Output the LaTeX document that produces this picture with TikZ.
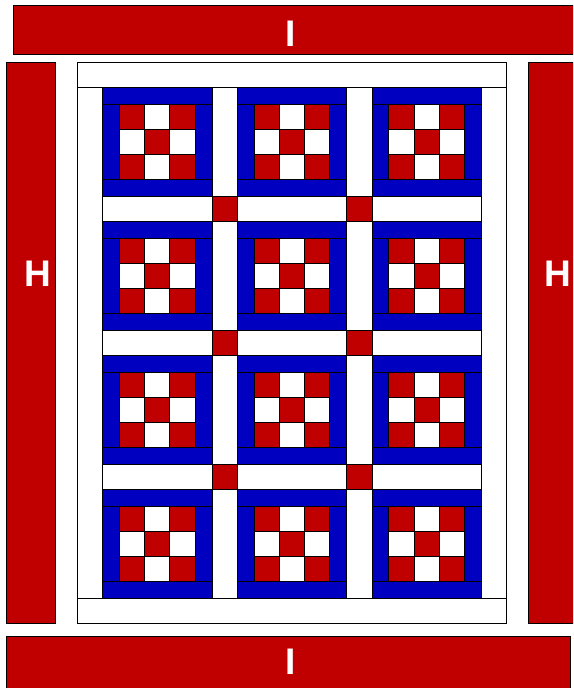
\documentclass[tikz,border=0pt]{standalone}
\usepackage{fontspec}
\setmainfont{Liberation Sans}
\usepackage{xcolor}
\usepackage{tikz}
\usetikzlibrary{positioning}

\definecolor{quiltred}{RGB}{192,0,0}
\definecolor{quiltblue}{RGB}{0,0,192}

\begin{document}
\begin{tikzpicture}[
    x=1pt, y=-1pt,
    bar/.style={rectangle, draw=black, fill=quiltred, line width=1pt},
    piece/.style={draw=black, line width=0.9pt},
    sash/.style={piece, fill=white},
    band/.style={piece, fill=quiltblue},
    redsq/.style={piece, fill=quiltred},
    barlabel/.style={font=\fontsize{37}{40}\selectfont\bfseries, text=white, inner sep=0pt}
]
    \useasboundingbox (0,0) rectangle (573,688);
    \clip (0,0) rectangle (573,688);

    % ============ Outer red borders ============
    \draw[bar] (13.5,5.5) rectangle (600,54);
    \draw[bar] (6.3,636) rectangle (570,700);
    \draw[bar] (6.7,62.7) rectangle (55.7,623.3);
    \draw[bar] (528.3,62.7) rectangle (600,623.3);

    \node[barlabel] (topI) at (290.7,33.3) {I};
    \node[barlabel] (bottomI) at (290.7,661.3) {I};
    \node[barlabel] (leftH) at (38,274) {H};
    \node[barlabel] (rightH) at (558,274) {H};

    % ============ Quilt top ============
    \begin{scope}[shift={(77.3,62.7)}, x=16.84pt, y=-16.73pt]
        % white border
        \draw[sash] (0,0) rectangle (25.5,1.5);
        \draw[sash] (0,32) rectangle (25.5,33.5);
        \draw[sash] (0,1.5) rectangle (1.5,32);
        \draw[sash] (24,1.5) rectangle (25.5,32);

        % sashing strips
        \foreach \c in {1,2}
            \foreach \r in {0,...,3}
                \draw[sash] ({8*\c},{1.5+8*\r}) rectangle ++(1.5,6.5);
        \foreach \r in {1,2,3}
            \foreach \c in {0,1,2}
                \draw[sash] ({1.5+8*\c},{8*\r}) rectangle ++(6.5,1.5);

        % cornerstones
        \foreach \c in {1,2}
            \foreach \r in {1,2,3}
                \draw[redsq] ({8*\c},{8*\r}) rectangle ++(1.5,1.5);

        % blocks: blue frame round a nine-patch
        \foreach \c in {0,1,2}
            \foreach \r in {0,...,3} {
                \begin{scope}[shift={({1.5+8*\c},{1.5+8*\r})}]
                    \draw[band] (0,0) rectangle (6.5,1);
                    \draw[band] (0,5.5) rectangle (6.5,6.5);
                    \draw[band] (0,1) rectangle (1,5.5);
                    \draw[band] (5.5,1) rectangle (6.5,5.5);
                    \foreach \i in {0,1,2}
                        \foreach \j in {0,1,2}
                            \draw[sash] ({1+1.5*\i},{1+1.5*\j}) rectangle ++(1.5,1.5);
                    \foreach \i/\j in {0/0,2/0,1/1,0/2,2/2}
                        \draw[redsq] ({1+1.5*\i},{1+1.5*\j}) rectangle ++(1.5,1.5);
                \end{scope}
            }
    \end{scope}

\end{tikzpicture}
\end{document}
